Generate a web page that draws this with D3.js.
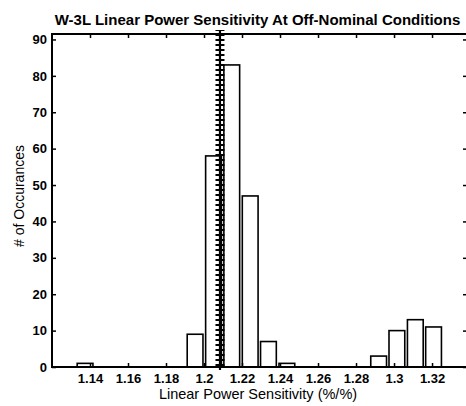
<!DOCTYPE html>
<html>
<head>
<meta charset="utf-8">
<script src="https://cdn.jsdelivr.net/npm/d3@7"></script>
<style>
	body { margin: 0; background: #fff; }
	text { font-family: "Liberation Sans", Arial, sans-serif; fill: #000; }
</style>
</head>
<body>
<div id="chart"></div>
<script>
// histogram bins (20 bins, centres)
let binCenters = [1.1374, 1.1470, 1.1567, 1.1663, 1.1760, 1.1857, 1.1953, 1.2050, 1.2146, 1.2243,
	1.2339, 1.2436, 1.2532, 1.2629, 1.2726, 1.2822, 1.2919, 1.3015, 1.3112, 1.3208];
let counts = [1, 0, 0, 0, 0, 0, 9, 58, 83, 47, 7, 1, 0, 0, 0, 0, 3, 10, 13, 11];
let binWidth = 0.00965;

let xTicks = [1.14, 1.16, 1.18, 1.2, 1.22, 1.24, 1.26, 1.28, 1.3, 1.32];
let yTicks = [0, 10, 20, 30, 40, 50, 60, 70, 80, 90];

// nominal value line
let nominal = 1.2084;
let nominalSpan = [-0.8, 92.6];

let width = 466, height = 406;
let plotLeft = 52, plotRight = 467, plotTop = 34, plotBottom = 367;

let svg = d3.select('#chart').append('svg')
	.attr('width', width)
	.attr('height', height);

let x = d3.scaleLinear().domain([1.12, 1.3384]).range([plotLeft, plotRight]);
let y = d3.scaleLinear().domain([0, 91.5]).range([plotBottom, plotTop]);

//bars
let bins = binCenters.map((c, i) => ({c: c, n: counts[i]}));
svg.selectAll('rect.bar')
	.data(bins.filter(d => d.n > 0))
	.join('rect')
	.classed('bar', true)
	.attr('x', d => x(d.c - binWidth * 0.43))
	.attr('width', d => x(d.c + binWidth * 0.43) - x(d.c - binWidth * 0.43))
	.attr('y', d => y(d.n))
	.attr('height', d => y(0) - y(d.n))
	.style('fill', '#fff')
	.style('stroke', '#000')
	.style('stroke-width', '1.6px');

//nominal line with cross marks
svg.append('line')
	.attr('x1', x(nominal)).attr('x2', x(nominal))
	.attr('y1', y(nominalSpan[0])).attr('y2', y(nominalSpan[1]))
	.style('stroke', '#000')
	.style('stroke-width', '2.2px');
svg.append('line')
	.attr('x1', x(nominal)).attr('x2', x(nominal))
	.attr('y1', y(nominalSpan[0]) - 4).attr('y2', y(nominalSpan[1]))
	.style('stroke', '#000')
	.style('stroke-width', '9px')
	.style('stroke-dasharray', '1.8,3.2');

//axes, ticks pointing inward on every side
let axisFont = g => g.selectAll('text')
	.style('font-size', '13px')
	.style('font-weight', 'bold')
	.style('font-family', '"Liberation Sans", Arial, sans-serif');

svg.append('g')
	.attr('transform', 'translate(0,' + plotBottom + ')')
	.call(d3.axisBottom(x).tickValues(xTicks).tickFormat(d3.format('')).tickSize(-4).tickPadding(7))
	.call(axisFont);
svg.append('g')
	.attr('transform', 'translate(0,' + plotTop + ')')
	.call(d3.axisTop(x).tickValues(xTicks).tickSize(-4).tickFormat(''));
svg.append('g')
	.attr('transform', 'translate(' + plotLeft + ',0)')
	.call(d3.axisLeft(y).tickValues(yTicks).tickSize(-4).tickPadding(5))
	.call(axisFont);
svg.append('g')
	.attr('transform', 'translate(' + plotRight + ',0)')
	.call(d3.axisRight(y).tickValues(yTicks).tickSize(-4).tickFormat(''));

svg.selectAll('.domain').remove();
svg.selectAll('.tick line').style('stroke-width', '1.5px');

//frame
svg.append('rect')
	.attr('x', plotLeft)
	.attr('y', plotTop)
	.attr('width', plotRight - plotLeft)
	.attr('height', plotBottom - plotTop)
	.style('fill', 'none')
	.style('stroke', '#000')
	.style('stroke-width', '2px');

//labels
svg.append('text')
	.attr('x', 257.5)
	.attr('y', 25)
	.attr('text-anchor', 'middle')
	.style('font-size', '15px')
	.style('font-weight', 'bold')
	.text('W-3L Linear Power Sensitivity At Off-Nominal Conditions');

svg.append('text')
	.attr('x', 258)
	.attr('y', 399)
	.attr('text-anchor', 'middle')
	.style('font-size', '14.5px')
	.text('Linear Power Sensitivity (%/%)');

svg.append('text')
	.attr('transform', 'translate(24,196) rotate(-90)')
	.attr('text-anchor', 'middle')
	.style('font-size', '14px')
	.text('# of Occurances');
</script>
</body>
</html>
